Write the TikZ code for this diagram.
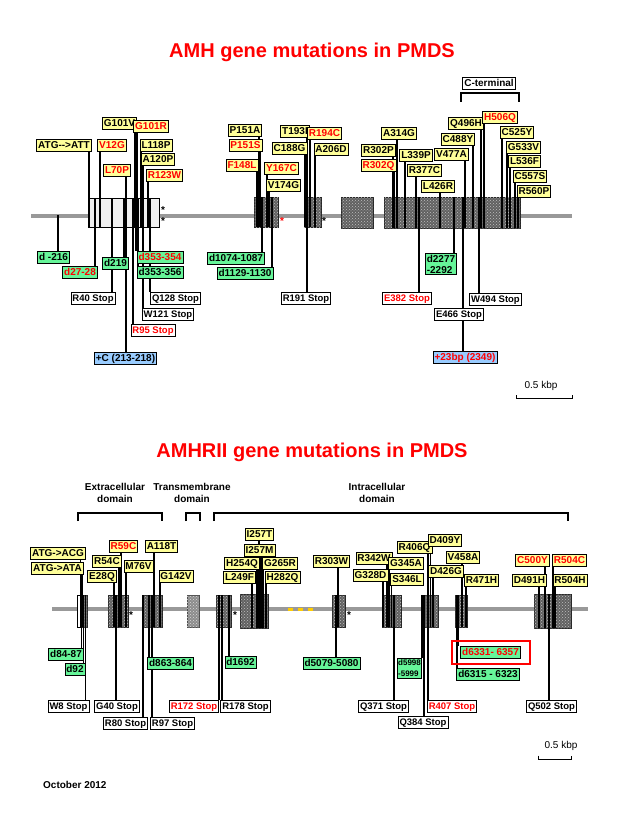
\documentclass[tikz,border=0pt]{standalone}
\usepackage{fontspec}
\setmainfont{Liberation Sans}
\usetikzlibrary{patterns}
\pgfdeclarelayer{back}
\pgfdeclarelayer{mid}
\pgfsetlayers{back,mid,main}
\definecolor{ylw}{HTML}{FFFF99}
\definecolor{grn}{HTML}{66F599}
\definecolor{blu}{HTML}{99CCFF}
\definecolor{rd}{HTML}{FF0000}
\definecolor{genegray}{HTML}{999999}
\definecolor{dotylw}{HTML}{FFCC00}
\newcommand\upl[3]{\draw[mline] (#1.south -| #2,0) -- (#2,#3);}
\newcommand\dnl[3]{\draw[mline] (#2,#3) -- (#1.north -| #2,0);}
\tikzset{
 labbase/.style={draw=black, line width=0.6pt, font=\fontsize{10}{11}\selectfont\bfseries, inner xsep=1.5pt, inner ysep=1.6pt},
 lab/.style={labbase, text height=7.3pt, text depth=1.2pt},
 ylab/.style={lab, fill=ylw},
 glab/.style={lab, fill=grn},
 glab2/.style={labbase, fill=grn, align=left},
 slab/.style={lab, fill=white, font=\fontsize{9.5}{11}\selectfont\bfseries},
 blab/.style={lab, fill=blu},
 rt/.style={text=rd},
 mline/.style={line width=1.3pt, black},
 exon/.style={draw=black!85, line width=0.6pt, fill=black!62, postaction={pattern=crosshatch dots, pattern color=black!25}},
 exonlt/.style={draw=black, line width=0.6pt, fill=black!6},
 gene/.style={line width=4pt, genegray},
 ttl/.style={font=\fontsize{20}{24}\selectfont\bfseries, text=rd},
 dom/.style={font=\fontsize{10}{12}\selectfont\bfseries, align=center},
 astk/.style={font=\fontsize{10}{10}\selectfont\bfseries, inner sep=0pt},
 brk/.style={line width=1.1pt, black},
 small/.style={font=\fontsize{10}{11}\selectfont}
}
\begin{document}
\begin{tikzpicture}[x=1pt,y=-1pt]
\useasboundingbox (0,0) rectangle (624,832);
\begin{pgfonlayer}{back}
 \fill[white] (0,0) rectangle (624,832);
 % AMH gene
 \draw[gene] (31,215.5) -- (572,215.5);
 \draw[exonlt] (88,198) rectangle (159,227);
 \draw[exon] (254,197) rectangle (278,227);
 \draw[exon] (304,197) rectangle (321,227);
 \draw[exon] (341,197) rectangle (373,228);
 \draw[exon] (384,197) rectangle (520,228);
 % AMHRII gene
 \draw[gene] (52,609) -- (588,609);
 \draw[draw=black, line width=0.6pt, fill=white] (77,595) rectangle (81,627);
 \draw[exon] (81,595) rectangle (87,627);
 \draw[exon] (108,595) rectangle (128,627);
 \draw[exon] (142,595) rectangle (162,627);
 \draw[draw=black!70, line width=0.6pt, fill=black!45, postaction={pattern=crosshatch dots, pattern color=black!15}] (187,595) rectangle (199,627);
 \draw[exon] (216,595) rectangle (231,627);
 \draw[exon] (240,594) rectangle (268,628);
 \draw[exon] (332,595) rectangle (345,627);
 \draw[exon] (382,595) rectangle (401,627);
 \draw[exon] (422,595) rectangle (438,627);
 \draw[exon] (455,595) rectangle (467,627);
 \draw[exon] (534,594) rectangle (571,628);
 \fill[dotylw] (288,607.5) rectangle (293,610.5);
 \fill[dotylw] (298,607.5) rectangle (303,610.5);
 \fill[dotylw] (308,607.5) rectangle (313,610.5);
\end{pgfonlayer}

% titles
\node[ttl] (t1) at (312,52) {AMH gene mutations in PMDS};
\node[ttl] (t2) at (312,452) {AMHRII gene mutations in PMDS};

% C-terminal
\node[lab, fill=white] (cterm) at (489,83) {C-terminal};
\draw[brk] (461,102) -- (461,93) -- (519,93) -- (519,102);

% asterisks top
\node[astk] (a1) at (163,210) {*};
\node[astk] (a2) at (163,221) {*};
\node[astk, text=rd] (a3) at (282,221) {*};
\node[astk] (a4) at (324,221) {*};

% AMH upper labels
\node[ylab] (atgT) at (64,145.5) {ATG-{}->ATT};
\node[ylab, rt] (v12g) at (112,145.5) {V12G};
\node[ylab] (g101v) at (119.5,123) {G101V};
\node[ylab, rt] (g101r) at (151,126) {G101R};
\node[ylab] (l118p) at (156,145) {L118P};
\node[ylab] (a120p) at (158,159.5) {A120P};
\node[ylab, rt] (l70p) at (117,170.5) {L70P};
\node[ylab, rt] (r123w) at (164.5,175.5) {R123W};
\node[ylab] (p151a) at (245,130) {P151A};
\node[ylab, rt] (p151s) at (245.5,145.5) {P151S};
\node[ylab, rt] (f148l) at (242,165) {F148L};
\node[ylab, rt] (y167c) at (281.5,168.5) {Y167C};
\node[ylab] (v174g) at (283.5,185) {V174G};
\node[ylab] (t193i) at (295,131.5) {T193I};
\node[ylab, rt] (r194c) at (324.5,133.5) {R194C};
\node[ylab] (c188g) at (289.5,148) {C188G};
\node[ylab] (a206d) at (331,149.5) {A206D};
\node[ylab] (r302p) at (378.5,150) {R302P};
\node[ylab, rt] (r302q) at (378.5,165.5) {R302Q};
\node[ylab] (a314g) at (399,133.5) {A314G};
\node[ylab] (l339p) at (416,155) {L339P};
\node[ylab] (r377c) at (424.5,170) {R377C};
\node[ylab] (l426r) at (438,186) {L426R};
\node[ylab] (v477a) at (451.5,154) {V477A};
\node[ylab] (c488y) at (458,139) {C488Y};
\node[ylab] (q496h) at (466,123) {Q496H};
\node[ylab, rt] (h506q) at (500,117.5) {H506Q};
\node[ylab] (c525y) at (517,132.5) {C525Y};
\node[ylab] (g533v) at (523.5,147.5) {G533V};
\node[ylab] (l536f) at (524.5,161.5) {L536F};
\node[ylab] (c557s) at (530,176) {C557S};
\node[ylab] (r560p) at (534,191) {R560P};

% AMH lower labels
\node[glab] (dm216) at (53.5,257) {d -216};
\node[glab, rt] (d2728) at (80,272.5) {d27-28};
\node[glab] (d219) at (115.5,263) {d219};
\node[slab] (r40) at (93,298.5) {R40 Stop};
\node[blab] (plusc) at (125.5,358) {+C (213-218)};
\node[glab, rt] (d353a) at (160,257.5) {d353-354};
\node[glab] (d353b) at (160,272.5) {d353-356};
\node[slab] (q128) at (175.5,298.5) {Q128 Stop};
\node[slab] (w121) at (168,314) {W121 Stop};
\node[slab, rt] (r95) at (153,330.5) {R95 Stop};
\node[glab] (d1074) at (236,258) {d1074-1087};
\node[glab] (d1129) at (245,273) {d1129-1130};
\node[slab] (r191) at (306,298.5) {R191 Stop};
\node[slab, rt] (e382) at (407,298.5) {E382 Stop};
\node[glab2] (d2277) at (441,264) {d2277\\-2292};
\node[slab] (w494) at (495.5,299) {W494 Stop};
\node[slab] (e466) at (459,314) {E466 Stop};
\node[blab, rt] (p23) at (465,357.5) {+23bp (2349)};

% scale bar top
\node[small] (sc1) at (541,386) {0.5 kbp};
\draw[line width=0.8pt] (516,395) -- (516,398.5) -- (572,398.5) -- (572,395);

% AMHRII domains
\node[dom] (ext) at (115,493) {Extracellular\\domain};
\node[dom] (tm) at (192,493) {Transmembrane\\domain};
\node[dom] (intra) at (377,493) {Intracellular\\domain};
\draw[brk] (78,521) -- (78,513) -- (162,513) -- (162,521);
\draw[brk] (186,521) -- (186,513) -- (200,513) -- (200,521);
\draw[brk] (214,521) -- (214,513) -- (568,513) -- (568,521);

% asterisks bottom
\node[astk] (b1) at (131,615) {*};
\node[astk] (b2) at (235,615) {*};
\node[astk] (b3) at (349,615) {*};

% AMHRII upper labels
\node[ylab] (atgc) at (58,553) {ATG->ACG};
\node[ylab] (atga) at (57.5,568) {ATG->ATA};
\node[ylab] (r54c) at (107,561) {R54C};
\node[ylab] (e28q) at (102,576.5) {E28Q};
\node[ylab, rt] (r59c) at (123.5,546) {R59C};
\node[ylab] (m76v) at (138.5,566.5) {M76V};
\node[ylab] (a118t) at (161.5,546) {A118T};
\node[ylab] (g142v) at (176,576) {G142V};
\node[ylab] (i257t) at (259.5,534) {I257T};
\node[ylab] (i257m) at (259.5,550) {I257M};
\node[ylab] (h254q) at (242,563.5) {H254Q};
\node[ylab] (g265r) at (280,563.5) {G265R};
\node[ylab] (l249f) at (239.5,577.5) {L249F};
\node[ylab] (h282q) at (282.5,577.5) {H282Q};
\node[ylab] (r303w) at (331.5,561) {R303W};
\node[ylab] (r342w) at (374,558.5) {R342W};
\node[ylab] (g328d) at (370.5,575.5) {G328D};
\node[ylab] (g345a) at (406,563.5) {G345A};
\node[ylab] (s346l) at (407,579.5) {S346L};
\node[ylab] (r406q) at (414.5,547.5) {R406Q};
\node[ylab] (d409y) at (445,540) {D409Y};
\node[ylab] (d426g) at (446,571.5) {D426G};
\node[ylab] (v458a) at (463,557) {V458A};
\node[ylab] (r471h) at (481.5,580) {R471H};
\node[ylab, rt] (c500y) at (532.5,560.5) {C500Y};
\node[ylab, rt] (r504c) at (569.5,560.5) {R504C};
\node[ylab] (d491h) at (529.5,580.5) {D491H};
\node[ylab] (r504h) at (570,580.5) {R504H};

% AMHRII lower labels
\node[glab] (d8487) at (66,654) {d84-87};
\node[glab] (d92) at (75,669) {d92};
\node[slab] (w8) at (68.5,706) {W8 Stop};
\node[slab] (g40) at (117,706) {G40 Stop};
\node[slab] (r80) at (125.5,723) {R80 Stop};
\node[glab] (d863) at (170.5,663) {d863-864};
\node[slab] (r97) at (172.5,723) {R97 Stop};
\node[slab, rt] (r172) at (194,706) {R172 Stop};
\node[slab] (r178) at (245.5,706) {R178 Stop};
\node[glab] (d1692) at (240.5,662) {d1692};
\node[glab] (d5079) at (331.5,663) {d5079-5080};
\node[slab] (q371) at (383.5,706.5) {Q371 Stop};
\node[glab2, font=\fontsize{8}{11}\selectfont\bfseries, inner xsep=0.6pt] (d5998) at (409.5,668) {d5998\\-5999};
\node[slab] (q384) at (423,722) {Q384 Stop};
\node[slab, rt] (r407) at (452,706.5) {R407 Stop};
\node[glab, rt, line width=1.6pt] (d6331) at (490.5,652.5) {d6331- 6357};
\draw[rd, line width=1.2pt] (452,641) rectangle (530,664);
\node[glab] (d6315) at (488,674.5) {d6315 - 6323};
\node[slab] (q502) at (551.5,706.5) {Q502 Stop};

% scale bar bottom
\node[small] (sc2) at (561,746) {0.5 kbp};
\draw[line width=0.8pt] (538,755.5) -- (538,759) -- (571,759) -- (571,755.5);

\node[font=\fontsize{10}{11}\selectfont\bfseries, anchor=west, inner sep=0pt] (date) at (43,785) {October 2012};

\begin{pgfonlayer}{mid}
 % AMH upper connectors
 \upl{atgT}{89}{227} \upl{v12g}{100}{227} \upl{g101v}{135}{227} \upl{g101r}{137}{227}
 \upl{l118p}{141}{227} \upl{a120p}{143}{227} \upl{l70p}{126}{227} \upl{r123w}{148}{227}
 \upl{p151a}{259}{227} \upl{p151s}{260.5}{227} \upl{f148l}{257}{227} \upl{y167c}{267}{227} \upl{v174g}{269}{227}
 \upl{t193i}{307}{227} \upl{r194c}{310}{227} \upl{c188g}{305}{227} \upl{a206d}{315}{227}
 \upl{r302p}{393}{228} \upl{r302q}{394.5}{228} \upl{a314g}{397}{228} \upl{l339p}{405}{228}
 \upl{r377c}{416}{228} \upl{l426r}{440}{228} \upl{v477a}{465}{228} \upl{c488y}{473}{228}
 \upl{q496h}{481}{228} \upl{h506q}{484}{228} \upl{c525y}{502}{228} \upl{g533v}{507}{228}
 \upl{l536f}{510}{228} \upl{c557s}{515}{228} \upl{r560p}{518}{228}
 % AMH lower connectors
 \dnl{dm216}{58}{215}
 \dnl{d2728}{95}{198} \dnl{d219}{124}{198} \dnl{r40}{112}{198} \dnl{plusc}{126}{198}
 \dnl{d353a}{136}{198} \dnl{d353b}{138}{198} \dnl{q128}{150}{198} \dnl{w121}{143}{198} \dnl{r95}{133}{198}
 \dnl{d1074}{262}{197} \dnl{d1129}{272}{197} \dnl{r191}{307}{197}
 \dnl{e382}{419}{197} \dnl{d2277}{454}{197} \dnl{w494}{479}{197} \dnl{e466}{463}{197} \dnl{p23}{463}{197}
 % AMHRII upper connectors
 \upl{atgc}{80.5}{627} \upl{atga}{82}{627}
 \upl{r54c}{119}{627} \upl{e28q}{114}{627} \upl{r59c}{121}{627} \upl{m76v}{126}{627}
 \upl{a118t}{154}{627} \upl{g142v}{160}{627}
 \upl{i257t}{259}{628} \upl{i257m}{261}{628} \upl{h254q}{257}{628} \upl{g265r}{263}{628}
 \upl{l249f}{252}{628} \upl{h282q}{266}{628}
 \upl{r303w}{338}{627}
 \upl{r342w}{387}{627} \upl{g328d}{383}{627} \upl{g345a}{389}{627} \upl{s346l}{391.5}{627}
 \upl{r406q}{428}{627} \upl{d409y}{430.5}{627} \upl{d426g}{433}{627}
 \upl{v458a}{462}{627} \upl{r471h}{466}{627}
 \upl{c500y}{545}{628} \upl{r504c}{553}{628} \upl{d491h}{539}{628} \upl{r504h}{555}{628}
 % AMHRII lower connectors
 \dnl{d8487}{81.5}{595} \dnl{d92}{83.5}{595} \dnl{w8}{85.5}{595}
 \dnl{g40}{116}{595} \dnl{r80}{143}{595} \dnl{d863}{149}{595} \dnl{r97}{152}{595}
 \dnl{r172}{219}{595} \dnl{r178}{222}{595} \dnl{d1692}{229}{595}
 \dnl{d5079}{336}{595} \dnl{q371}{394}{595}
 \dnl{d5998}{422}{595} \dnl{q384}{424}{595} \dnl{r407}{428}{595}
 \dnl{d6331}{458}{595} \dnl{d6315}{457}{595} \dnl{q502}{549}{594}
\end{pgfonlayer}
\end{tikzpicture}
\end{document}
